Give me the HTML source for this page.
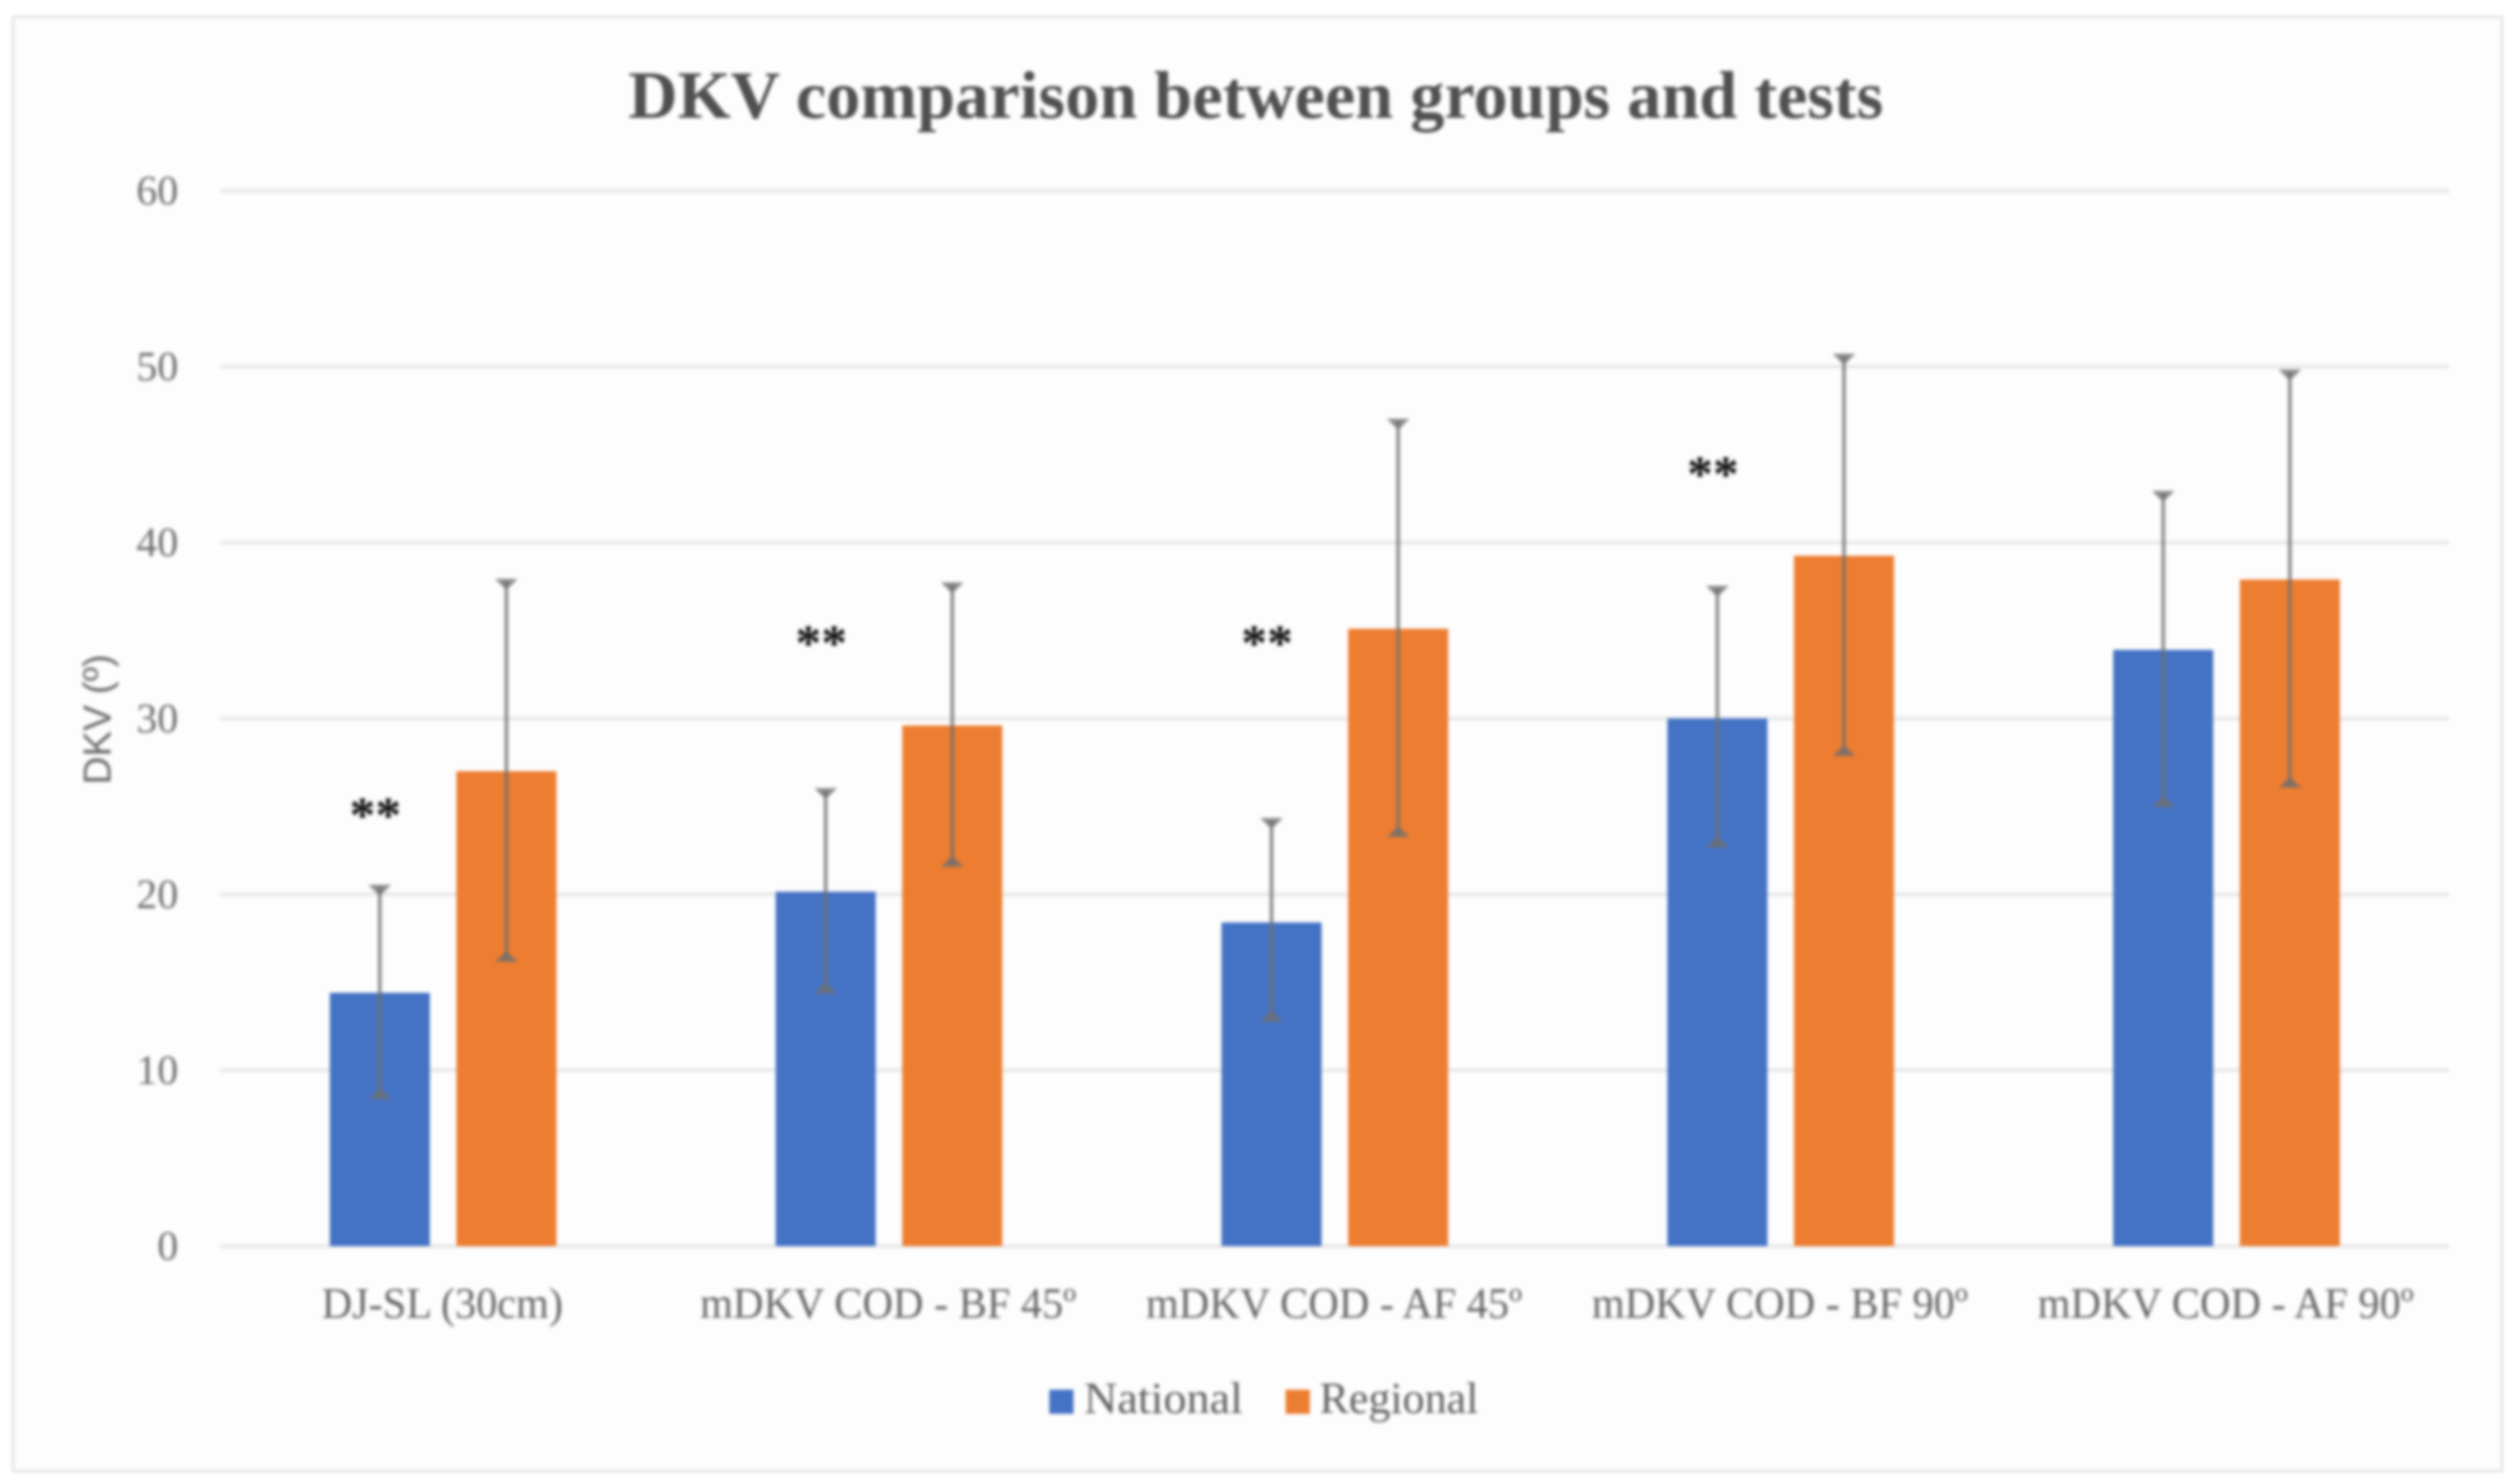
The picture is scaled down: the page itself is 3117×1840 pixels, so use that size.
<!DOCTYPE html>
<html lang="en">
<head>
<meta charset="utf-8">
<title>DKV comparison between groups and tests</title>
<style>
  html, body { margin: 0; padding: 0; background: #fff; }
  body { width: 3117px; height: 1840px; overflow: hidden; }
  svg { display: block; filter: blur(2.2px); }
  .serif { font-family: "Liberation Serif", serif; }
  .sans { font-family: "Liberation Sans", sans-serif; }
</style>
</head>
<body>
<svg id="chart" xmlns="http://www.w3.org/2000/svg" width="3117" height="1840" viewBox="0 0 3117 1840">
  <rect x="16" y="21" width="3086" height="1803" fill="#fdfdfd" stroke="#e8e8e8" stroke-width="4"></rect>
  <text class="serif" x="1557" y="146" text-anchor="middle" font-size="84" font-weight="700" fill="#505050" textLength="1556" lengthAdjust="spacingAndGlyphs">DKV comparison between groups and tests</text>
  <g id="grid"></g>
  <g id="y-ticks"></g>
  <text class="sans" x="0" y="0" transform="translate(137 892) rotate(-90)" text-anchor="middle" font-size="48" fill="#666666">DKV (º)</text>
  <g id="bars"></g>
  <g id="errors"></g>
  <g id="sig"></g>
  <g id="x-labels"></g>
  <g>
    <g>
      <rect x="1301" y="1723" width="30" height="30" fill="#4472c4"></rect>
      <text class="serif" x="1344" y="1752" font-size="55" fill="#5f5f5f" textLength="197" lengthAdjust="spacingAndGlyphs">National</text>
    </g>
    <g>
      <rect x="1594" y="1723" width="30" height="30" fill="#ed7d31"></rect>
      <text class="serif" x="1636" y="1752" font-size="55" fill="#5f5f5f" textLength="197" lengthAdjust="spacingAndGlyphs">Regional</text>
    </g>
  </g>
</svg>
<script>
// Chart data
const categories = ["DJ-SL (30cm)", "mDKV COD - BF 45º", "mDKV COD - AF 45º", "mDKV COD - BF 90º", "mDKV COD - AF 90º"];
const yTickLabels = [0, 10, 20, 30, 40, 50, 60];
const nationalValues = [14.4, 20.15, 18.4, 30.0, 33.9];
const regionalValues = [27.0, 29.6, 35.1, 39.25, 37.9];
const nationalErrHigh = [20.4, 25.9, 24.2, 37.4, 42.8];
const nationalErrLow = [8.5, 14.5, 12.9, 22.8, 25.1];
const regionalErrHigh = [37.8, 37.6, 46.9, 50.6, 49.7];
const regionalErrLow = [16.3, 21.7, 23.4, 28.0, 26.2];
const significanceCategories = [0, 1, 2, 3];
const significanceLevels = [24.9, 34.7, 34.7, 44.3];

// Axis geometry
const plotLeft = 273, plotRight = 3037, plotBottom = 1545, plotTop = 236.6, yMax = 60;
const barWidth = 124, barGap = 33;
const NS = "http://www.w3.org/2000/svg";

function yScale(v) { return plotBottom - (v / yMax) * (plotBottom - plotTop); }
function xCenter(i) { return plotLeft + (i + 0.5) * (plotRight - plotLeft) / categories.length; }
function make(tag, attrs, parent, text) {
  const el = document.createElementNS(NS, tag);
  for (const k in attrs) el.setAttribute(k, attrs[k]);
  if (text !== undefined) el.textContent = text;
  parent.appendChild(el);
  return el;
}

const gridGroup = document.getElementById("grid");
const tickGroup = document.getElementById("y-ticks");
yTickLabels.forEach(function (t) {
  const line = make("line", { x1: plotLeft, x2: plotRight, y1: yScale(t), y2: yScale(t), stroke: "#e9e9e9", "stroke-width": 5 }, gridGroup);
  
  
  const label = make("text", { class: "serif", x: 221, y: yScale(t) + 17, "text-anchor": "end", "font-size": 52, fill: "#6e6e6e" }, tickGroup, String(t));
  
  
});

const barGroup = document.getElementById("bars");
const errGroup = document.getElementById("errors");

function drawError(cx, high, low) {
  const yh = yScale(high), yl = yScale(low);
  const stem = make("line", { x1: cx, x2: cx, y1: yh, y2: yl, stroke: "#6e6e6e", "stroke-opacity": 0.8, "stroke-width": 4.5 }, errGroup);
  
  
  const capHigh = make("polygon", { points: [cx - 14, yh - 3, cx + 14, yh - 3, cx + 3, yh + 8, cx - 3, yh + 8].join(" "), fill: "#6e6e6e", "fill-opacity": 0.8 }, errGroup);
  
  
  const capLow = make("polygon", { points: [cx - 14, yl + 3, cx + 14, yl + 3, cx + 3, yl - 8, cx - 3, yl - 8].join(" "), fill: "#6e6e6e", "fill-opacity": 0.8 }, errGroup);
  
  
}

categories.forEach(function (c, i) {
  const cx = xCenter(i);
  const nx = cx - barGap / 2 - barWidth;
  const rx = cx + barGap / 2;
  const nBar = make("rect", { x: nx, y: yScale(nationalValues[i]), width: barWidth, height: plotBottom - yScale(nationalValues[i]), fill: "#4472c4" }, barGroup);
  
  
  const rBar = make("rect", { x: rx, y: yScale(regionalValues[i]), width: barWidth, height: plotBottom - yScale(regionalValues[i]), fill: "#ed7d31" }, barGroup);
  
  
  drawError(nx + barWidth / 2, nationalErrHigh[i], nationalErrLow[i]);
  drawError(rx + barWidth / 2, regionalErrHigh[i], regionalErrLow[i]);

  const xl = make("text", { class: "serif", x: cx - 1, y: 1634, "text-anchor": "middle", "font-size": 54, fill: "#666666" }, document.getElementById("x-labels"), c);
  
  
  xl.setAttribute("textLength", (xl.getComputedTextLength() * 0.97).toFixed(1));
  xl.setAttribute("lengthAdjust", "spacingAndGlyphs");
});

significanceCategories.forEach(function (c, i) {
  const mark = make("text", { class: "serif", x: xCenter(c) - 84, y: yScale(significanceLevels[i]) + 30, "text-anchor": "middle", "font-size": 64, "font-weight": 700, fill: "#111111" }, document.getElementById("sig"), "**");
  
  
});
</script>
</body>
</html>
